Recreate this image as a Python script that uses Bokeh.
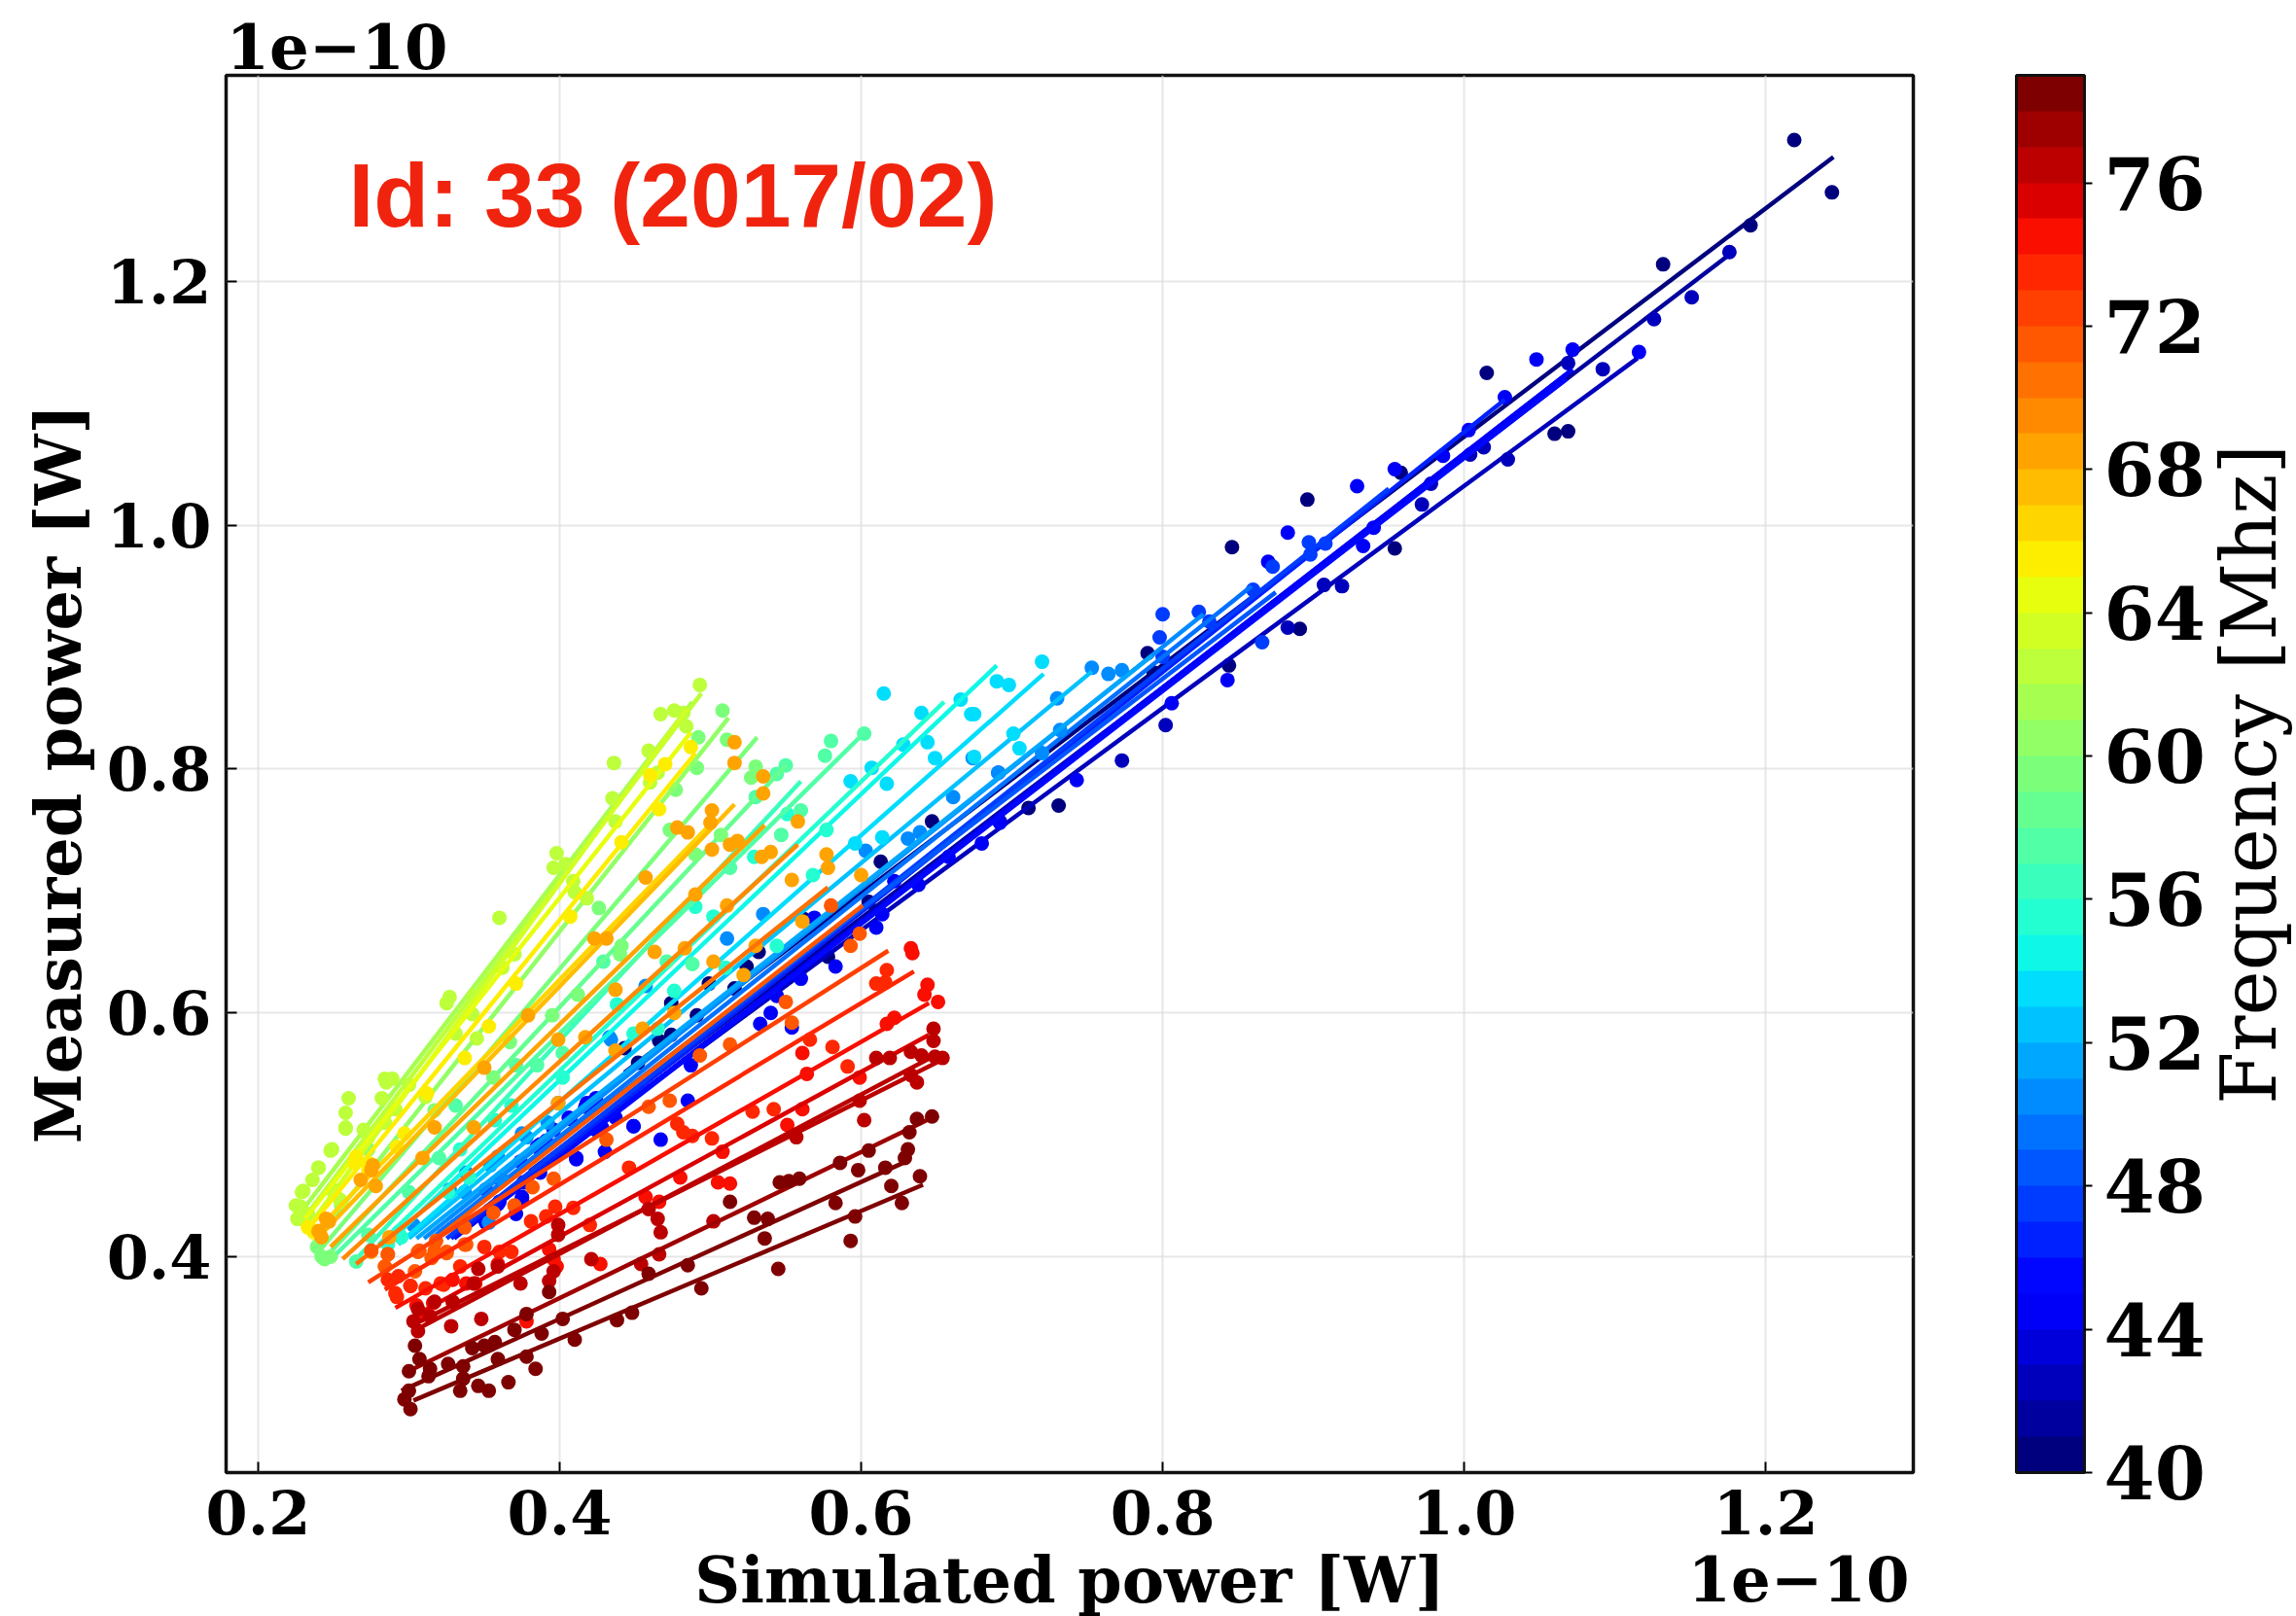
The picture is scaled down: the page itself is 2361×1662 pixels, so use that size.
import numpy as np
from bokeh.embed import file_html
from bokeh.models import ColorBar, ColumnDataSource, FixedTicker, Label, LinearColorMapper, NumeralTickFormatter, Title
from bokeh.plotting import figure
from bokeh.resources import INLINE
from bokeh.transform import transform

# Fit lines: one per frequency (MHz); power values in units of 1e-10 W
line_freq = [40, 41, 42, 43, 44, 45, 46, 47, 48, 49, 50, 51, 52, 53, 54, 55, 56, 57, 58, 59, 60,
             61, 62, 63, 64, 65, 66, 67, 68, 69, 70, 71, 72, 73, 74, 75, 76, 76, 77, 78, 78]
line_x0 = [0.443, 0.380, 0.350, 0.340, 0.335, 0.330, 0.328, 0.325, 0.320, 0.315, 0.310, 0.305, 0.300, 0.293, 0.285, 0.280, 0.265, 0.250, 0.245, 0.240, 0.237,
           0.228, 0.230, 0.233, 0.231, 0.234, 0.236, 0.240, 0.248, 0.256, 0.265, 0.315, 0.273, 0.284, 0.291, 0.300, 0.303, 0.301, 0.303, 0.295, 0.303]
line_y0 = [0.551, 0.470, 0.440, 0.425, 0.420, 0.415, 0.415, 0.415, 0.420, 0.415, 0.415, 0.415, 0.415, 0.410, 0.410, 0.410, 0.398, 0.400, 0.400, 0.404, 0.412,
           0.436, 0.431, 0.424, 0.431, 0.424, 0.418, 0.416, 0.408, 0.398, 0.394, 0.412, 0.379, 0.373, 0.358, 0.349, 0.339, 0.343, 0.308, 0.290, 0.282]
line_x1 = [1.245, 1.175, 1.115, 1.070, 1.072, 1.068, 1.027, 0.950, 0.875, 0.859, 0.827, 0.793, 0.753, 0.721, 0.690, 0.655, 0.560, 0.599, 0.550, 0.531, 0.512,
           0.488, 0.494, 0.485, 0.487, 0.490, 0.501, 0.516, 0.536, 0.558, 0.578, 0.601, 0.618, 0.635, 0.645, 0.645, 0.652, 0.653, 0.647, 0.628, 0.641]
line_y1 = [1.302, 1.221, 1.137, 1.126, 1.128, 1.120, 1.103, 1.030, 0.945, 0.950, 0.927, 0.893, 0.880, 0.878, 0.885, 0.855, 0.790, 0.826, 0.803, 0.826, 0.842,
           0.855, 0.862, 0.850, 0.830, 0.813, 0.756, 0.771, 0.754, 0.738, 0.703, 0.688, 0.651, 0.634, 0.608, 0.582, 0.567, 0.561, 0.514, 0.477, 0.459]

# Measured points, grouped by frequency
navy_f = 40
navy_x = [1.219, 1.244, 1.190, 1.132, 1.015, 1.060, 1.069, 0.958, 0.896, 0.846, 0.891, 0.844, 0.731, 0.711, 0.692, 0.794, 0.790, 0.954, 0.647, 0.613, 0.578, 0.562, 0.605, 0.532, 0.524, 0.516, 0.499, 0.474, 0.474, 0.466, 0.443, 0.452, 0.491]
navy_y = [1.316, 1.273, 1.246, 1.214, 1.125, 1.075, 1.077, 1.043, 1.021, 0.982, 0.915, 0.885, 0.770, 0.768, 0.757, 0.879, 0.895, 0.981, 0.757, 0.724, 0.646, 0.677, 0.691, 0.650, 0.638, 0.620, 0.624, 0.608, 0.582, 0.577, 0.571, 0.559, 0.598]
deep_f = 42
deep_x = [1.176, 1.126, 1.151, 1.092, 1.069, 1.004, 1.013, 1.029, 0.972, 0.978, 0.907, 0.919, 0.883, 0.802, 0.773]
deep_y = [1.224, 1.169, 1.187, 1.128, 1.133, 1.058, 1.064, 1.054, 1.017, 1.034, 0.951, 0.950, 0.916, 0.836, 0.807]
blue_f = 44
blue_x = [1.116, 1.072, 1.048, 1.027, 1.003, 0.986, 0.954, 0.929, 0.940, 0.933, 0.883, 0.870, 0.843, 0.806, 0.743,
          0.569, 0.583, 0.610, 0.614, 0.533, 0.540, 0.554, 0.560, 0.544, 0.485, 0.487, 0.449, 0.467, 0.430, 0.424, 0.411, 0.423, 0.417, 0.407, 0.396, 0.387, 0.378, 0.375, 0.360, 0.351, 0.371, 0.680, 0.658, 0.638, 0.622, 0.692,
          0.418, 0.424, 0.406, 0.411, 0.387, 0.376, 0.361, 0.351, 0.359, 0.375, 0.351, 0.374, 0.385, 0.391, 0.428, 0.437, 0.449]
blue_y = [1.142, 1.144, 1.136, 1.105, 1.078, 1.057, 1.046, 1.032, 0.998, 0.983, 0.994, 0.970, 0.873, 0.854, 0.791,
          0.678, 0.638, 0.670, 0.681, 0.591, 0.600, 0.588, 0.628, 0.614, 0.528, 0.557, 0.507, 0.496, 0.486, 0.504, 0.480, 0.528, 0.523, 0.513, 0.504, 0.492, 0.461, 0.448, 0.445, 0.428, 0.435, 0.739, 0.728, 0.705, 0.708, 0.756,
          0.526, 0.530, 0.514, 0.481, 0.469, 0.461, 0.463, 0.455, 0.443, 0.449, 0.429, 0.478, 0.490, 0.495, 0.506, 0.514, 0.507]
azure_f = 47
azure_x = [0.897, 0.908, 0.898, 0.873, 0.860, 0.866, 0.831, 0.824, 0.800, 0.798, 0.800, 0.691]
azure_y = [0.986, 0.985, 0.976, 0.966, 0.947, 0.904, 0.921, 0.929, 0.927, 0.908, 0.892, 0.797]
sky_f = 50
sky_x = [0.773, 0.764, 0.753, 0.730, 0.732, 0.720, 0.691, 0.674, 0.661, 0.631, 0.639, 0.603, 0.535, 0.511, 0.457, 0.434, 0.399, 0.392, 0.378, 0.354, 0.337, 0.362, 0.353, 0.375, 0.359, 0.338, 0.327, 0.303, 0.294, 0.433]
sky_y = [0.881, 0.878, 0.883, 0.858, 0.832, 0.813, 0.797, 0.809, 0.777, 0.743, 0.748, 0.733, 0.681, 0.661, 0.622, 0.578, 0.526, 0.510, 0.498, 0.475, 0.453, 0.463, 0.428, 0.501, 0.482, 0.469, 0.455, 0.426, 0.417, 0.580]
cyan_f = 53
cyan_x = [0.720, 0.701, 0.705, 0.675, 0.698, 0.690, 0.675, 0.615, 0.640, 0.666, 0.673, 0.628, 0.649, 0.644, 0.593, 0.607, 0.617, 0.596, 0.614]
cyan_y = [0.888, 0.829, 0.817, 0.810, 0.869, 0.872, 0.845, 0.862, 0.846, 0.857, 0.845, 0.820, 0.809, 0.822, 0.790, 0.801, 0.788, 0.739, 0.744]
aqua_f = 55
aqua_x = [0.529, 0.551, 0.577, 0.568, 0.502, 0.490, 0.510, 0.544, 0.438, 0.465, 0.476, 0.449, 0.402, 0.368, 0.357, 0.334, 0.326, 0.295, 0.293, 0.286, 0.340]
aqua_y = [0.728, 0.763, 0.750, 0.713, 0.679, 0.687, 0.637, 0.655, 0.607, 0.587, 0.618, 0.583, 0.547, 0.524, 0.512, 0.488, 0.453, 0.416, 0.420, 0.410, 0.465]
teal_f = 57
teal_x = [0.550, 0.544, 0.530, 0.602, 0.580, 0.576, 0.560, 0.547, 0.513, 0.471, 0.488, 0.429, 0.402, 0.385, 0.371, 0.331, 0.320, 0.300, 0.273, 0.265]
teal_y = [0.803, 0.796, 0.777, 0.829, 0.823, 0.811, 0.766, 0.746, 0.719, 0.642, 0.640, 0.642, 0.567, 0.557, 0.557, 0.524, 0.481, 0.453, 0.418, 0.396]
green_f = 59
green_x = [0.492, 0.511, 0.491, 0.477, 0.530, 0.527, 0.473, 0.507, 0.490, 0.441, 0.440, 0.426, 0.412, 0.395, 0.367, 0.356, 0.317, 0.273, 0.255, 0.239, 0.244, 0.242, 0.248, 0.508]
green_y = [0.826, 0.824, 0.801, 0.783, 0.802, 0.793, 0.750, 0.746, 0.730, 0.655, 0.648, 0.686, 0.615, 0.598, 0.576, 0.547, 0.520, 0.488, 0.442, 0.408, 0.398, 0.400, 0.400, 0.848]
lime_f = 62
lime_x = [0.493, 0.482, 0.476, 0.467, 0.484, 0.436, 0.459, 0.465, 0.460, 0.398, 0.404, 0.396, 0.409, 0.410, 0.418, 0.435, 0.437, 0.360, 0.327, 0.325, 0.343, 0.362, 0.370, 0.289, 0.285, 0.300, 0.282, 0.260, 0.258, 0.291, 0.258, 0.270, 0.273, 0.249, 0.240, 0.230, 0.228, 0.226, 0.233, 0.250, 0.255, 0.284, 0.311, 0.331, 0.345, 0.342,
          0.258, 0.248, 0.240, 0.236, 0.229, 0.227, 0.225, 0.250, 0.254, 0.284]
lime_y = [0.869, 0.846, 0.848, 0.845, 0.835, 0.805, 0.815, 0.797, 0.789, 0.731, 0.722, 0.719, 0.708, 0.699, 0.694, 0.776, 0.757, 0.678, 0.613, 0.608, 0.614, 0.637, 0.648, 0.546, 0.543, 0.541, 0.530, 0.530, 0.518, 0.521, 0.505, 0.504, 0.498, 0.488, 0.473, 0.454, 0.441, 0.431, 0.435, 0.453, 0.445, 0.510, 0.531, 0.583, 0.579, 0.599,
          0.506, 0.487, 0.473, 0.463, 0.453, 0.431, 0.442, 0.455, 0.447, 0.546]
yellow_f = 65
yellow_x = [0.487, 0.470, 0.460, 0.466, 0.441, 0.407, 0.371, 0.353, 0.337, 0.312, 0.297, 0.292, 0.264, 0.233, 0.237, 0.273, 0.265, 0.273]
yellow_y = [0.818, 0.804, 0.795, 0.767, 0.740, 0.679, 0.624, 0.589, 0.563, 0.534, 0.501, 0.490, 0.477, 0.424, 0.420, 0.471, 0.482, 0.477]
amber_f = 68
amber_x = [0.516, 0.516, 0.535, 0.535, 0.501, 0.500, 0.485, 0.478, 0.558, 0.534, 0.540, 0.513, 0.518, 0.501, 0.457, 0.490, 0.511, 0.463, 0.483, 0.502, 0.577, 0.578, 0.554, 0.600, 0.561, 0.530, 0.522, 0.437, 0.417, 0.399, 0.379, 0.431, 0.423, 0.350, 0.343, 0.317, 0.309, 0.276, 0.247, 0.242, 0.275, 0.287, 0.476, 0.399, 0.437, 0.455,
           0.268, 0.275, 0.278, 0.245, 0.240]
amber_y = [0.822, 0.805, 0.794, 0.780, 0.766, 0.756, 0.748, 0.752, 0.757, 0.728, 0.732, 0.738, 0.741, 0.734, 0.711, 0.697, 0.688, 0.650, 0.653, 0.642, 0.730, 0.719, 0.709, 0.713, 0.675, 0.655, 0.631, 0.619, 0.580, 0.578, 0.598, 0.661, 0.661, 0.555, 0.506, 0.506, 0.481, 0.475, 0.429, 0.416, 0.404, 0.416, 0.600, 0.526, 0.569, 0.587,
           0.463, 0.471, 0.458, 0.431, 0.421]
orange_f = 71
orange_x = [0.580, 0.599, 0.593, 0.550, 0.513, 0.493, 0.459, 0.473, 0.431, 0.396, 0.382, 0.370, 0.356, 0.337, 0.317, 0.306, 0.286, 0.284, 0.304, 0.325, 0.337, 0.554,
            0.307, 0.325, 0.315, 0.338, 0.318, 0.286, 0.275]
orange_y = [0.688, 0.665, 0.655, 0.609, 0.574, 0.565, 0.523, 0.528, 0.496, 0.464, 0.457, 0.442, 0.436, 0.424, 0.405, 0.404, 0.402, 0.392, 0.388, 0.404, 0.410, 0.592,
            0.405, 0.403, 0.399, 0.410, 0.413, 0.402, 0.405]
vermilion_f = 73
vermilion_x = [0.617, 0.610, 0.616, 0.566, 0.581, 0.591, 0.528, 0.542, 0.488, 0.482, 0.501, 0.478, 0.446, 0.409, 0.397, 0.391, 0.381, 0.420, 0.368, 0.360, 0.350, 0.334, 0.321, 0.301, 0.292,
               0.286, 0.293, 0.291, 0.301, 0.311, 0.323]
vermilion_y = [0.635, 0.624, 0.625, 0.578, 0.572, 0.556, 0.519, 0.521, 0.499, 0.502, 0.497, 0.509, 0.473, 0.440, 0.441, 0.433, 0.429, 0.426, 0.404, 0.404, 0.408, 0.392, 0.378, 0.376, 0.367,
               0.381, 0.384, 0.370, 0.376, 0.374, 0.377]
red_f = 74
red_x = [0.633, 0.634, 0.644, 0.642, 0.651, 0.622, 0.617, 0.561, 0.564, 0.599, 0.561, 0.551, 0.508, 0.505, 0.513, 0.480, 0.466, 0.457, 0.427, 0.398, 0.396, 0.393, 0.378,
         0.305, 0.308, 0.316, 0.329, 0.338, 0.344, 0.359]
red_y = [0.653, 0.649, 0.623, 0.615, 0.609, 0.596, 0.591, 0.567, 0.550, 0.547, 0.521, 0.508, 0.486, 0.461, 0.460, 0.465, 0.445, 0.449, 0.394, 0.392, 0.398, 0.406, 0.347,
         0.360, 0.352, 0.362, 0.381, 0.378, 0.378, 0.394]
crimson_f = 76
crimson_x = [0.648, 0.648, 0.633, 0.610, 0.619, 0.640, 0.649, 0.654, 0.633, 0.637, 0.599, 0.602, 0.557, 0.502, 0.459, 0.465, 0.467, 0.466, 0.454, 0.421, 0.399, 0.399, 0.396, 0.393, 0.374, 0.359, 0.346, 0.343, 0.329, 0.317, 0.306, 0.303, 0.306, 0.348, 0.328, 0.314]
crimson_y = [0.587, 0.577, 0.568, 0.563, 0.563, 0.565, 0.564, 0.563, 0.549, 0.543, 0.528, 0.512, 0.498, 0.429, 0.439, 0.431, 0.420, 0.402, 0.394, 0.398, 0.426, 0.418, 0.388, 0.380, 0.378, 0.392, 0.390, 0.378, 0.363, 0.363, 0.357, 0.347, 0.339, 0.349, 0.343, 0.351]
maroon_f = 78
maroon_x = [0.647, 0.637, 0.632, 0.631, 0.629, 0.605, 0.598, 0.616, 0.586, 0.639, 0.620, 0.627, 0.593, 0.596, 0.583, 0.546, 0.552, 0.559, 0.529, 0.538, 0.536, 0.513, 0.485, 0.545, 0.494, 0.459, 0.448, 0.438, 0.410, 0.402, 0.388, 0.370, 0.384, 0.366, 0.378, 0.359, 0.350, 0.357, 0.342, 0.353, 0.346, 0.334, 0.336, 0.336, 0.326, 0.314, 0.307, 0.300, 0.313, 0.304, 0.297, 0.301, 0.300, 0.378, 0.393]
maroon_y = [0.515, 0.513, 0.502, 0.488, 0.481, 0.487, 0.471, 0.473, 0.477, 0.466, 0.458, 0.444, 0.413, 0.433, 0.444, 0.461, 0.462, 0.464, 0.432, 0.431, 0.415, 0.445, 0.393, 0.390, 0.374, 0.386, 0.354, 0.348, 0.332, 0.349, 0.337, 0.340, 0.308, 0.297, 0.318, 0.316, 0.327, 0.330, 0.325, 0.290, 0.294, 0.290, 0.300, 0.310, 0.312, 0.308, 0.316, 0.306, 0.302, 0.327, 0.283, 0.275, 0.290, 0.353, 0.371]

point_groups = [
    (navy_f, navy_x, navy_y), (deep_f, deep_x, deep_y), (blue_f, blue_x, blue_y),
    (azure_f, azure_x, azure_y), (sky_f, sky_x, sky_y), (cyan_f, cyan_x, cyan_y),
    (aqua_f, aqua_x, aqua_y), (teal_f, teal_x, teal_y), (green_f, green_x, green_y),
    (lime_f, lime_x, lime_y), (yellow_f, yellow_x, yellow_y), (amber_f, amber_x, amber_y),
    (orange_f, orange_x, orange_y), (vermilion_f, vermilion_x, vermilion_y),
    (red_f, red_x, red_y), (crimson_f, crimson_x, crimson_y), (maroon_f, maroon_x, maroon_y),
]

x_ticks = [0.2, 0.4, 0.6, 0.8, 1.0, 1.2]
y_ticks = [0.4, 0.6, 0.8, 1.0, 1.2]
freq_ticks = [40, 44, 48, 52, 56, 60, 64, 68, 72, 76]
x_label = "Simulated power [W]"
y_label = "Measured power [W]"
freq_label = "Frequency [Mhz]"
offset_text = "1e\u221210"
id_text = "Id: 33 (2017/02)"


def jet_palette(n):
    t = np.linspace(0, 1, n)
    r = np.interp(t, [0, 0.35, 0.66, 0.89, 1], [0, 0, 1, 1, 0.5])
    g = np.interp(t, [0, 0.125, 0.375, 0.64, 0.91, 1], [0, 0, 1, 1, 0, 0])
    b = np.interp(t, [0, 0.11, 0.34, 0.65, 1], [0.5, 1, 1, 0, 0])
    return ["#%02x%02x%02x" % (int(a * 255), int(c * 255), int(d * 255)) for a, c, d in zip(r, g, b)]


SERIF = "DejaVu Serif"
mapper = LinearColorMapper(palette=jet_palette(39), low=40, high=79)

p = figure(
    frame_width=1735, frame_height=1437,
    x_range=(0.1787, 1.298), y_range=(0.2229, 1.369),
    min_border_left=232, min_border_top=77, min_border_bottom=140, min_border_right=394,
    toolbar_location=None, output_backend="svg", background_fill_color="white",
)
p.outline_line_color = "#111111"
p.outline_line_width = 3.5
p.xaxis.ticker = FixedTicker(ticks=x_ticks)
p.yaxis.ticker = FixedTicker(ticks=y_ticks)
p.xaxis.axis_label = x_label
p.yaxis.axis_label = y_label
p.xaxis.formatter = NumeralTickFormatter(format="0.0")
p.yaxis.formatter = NumeralTickFormatter(format="0.0")
for ax in (p.xaxis[0], p.yaxis[0]):
    ax.axis_line_color = None
    ax.major_tick_line_color = "black"
    ax.major_tick_line_width = 2
    ax.minor_tick_line_color = None
    ax.major_tick_out = 0
    ax.major_tick_in = 11
    ax.major_label_text_font = SERIF
    ax.major_label_text_font_style = "bold"
    ax.major_label_text_font_size = "62px"
    ax.major_label_text_color = "black"
    ax.axis_label_text_font = SERIF
    ax.axis_label_text_font_style = "bold"
    ax.axis_label_text_font_size = "65px"
    ax.axis_label_text_color = "black"
p.xaxis.major_label_standoff = 18
p.yaxis.major_label_standoff = 15
p.xaxis.axis_label_standoff = 6
p.yaxis.axis_label_standoff = 9
p.grid.grid_line_color = "#dddddd"
p.grid.grid_line_width = 2
p.grid.grid_line_alpha = 0.7

freqs = sorted(set(line_freq) | {g[0] for g in point_groups})
for f in freqs:
    for gf, gx, gy in point_groups:
        if gf == f:
            src = ColumnDataSource(dict(x=gx, y=gy, f=[gf] * len(gx)))
            p.scatter("x", "y", source=src, size=15, line_width=0,
                      fill_color=transform("f", mapper))
    idx = [i for i, v in enumerate(line_freq) if v == f]
    if idx:
        src = ColumnDataSource(dict(
            x0=[line_x0[i] for i in idx], y0=[line_y0[i] for i in idx],
            x1=[line_x1[i] for i in idx], y1=[line_y1[i] for i in idx],
            f=[f] * len(idx)))
        p.segment("x0", "y0", "x1", "y1", source=src, line_width=4.5,
                  line_color=transform("f", mapper), line_cap="butt")

cb = ColorBar(
    color_mapper=mapper, ticker=FixedTicker(ticks=freq_ticks),
    location=(1841, 0), width=70, height=1437, padding=0, margin=0,
    bar_line_color="#111111", bar_line_width=3,
    major_tick_line_color="black", major_tick_line_width=2, major_tick_in=0, major_tick_out=8,
    major_label_text_font=SERIF, major_label_text_font_style="bold",
    major_label_text_font_size="75px", major_label_text_color="black",
    label_standoff=12, background_fill_alpha=0, border_line_color=None,
)
p.add_layout(cb)

p.add_layout(Label(x=126, y=1314, x_units="screen", y_units="screen", text=id_text,
                   text_font="Liberation Sans", text_font_style="bold", text_font_size="93px",
                   text_color="#f0240e", text_baseline="alphabetic"))

# Offset text above the frame
p.add_layout(Title(text=offset_text, align="left", text_font=SERIF, text_font_style="bold",
                   text_font_size="64px", text_color="black", offset=0, standoff=13), "above")

# Offset text on the axis-label row: an invisible 1x2px colour bar whose single tick carries it,
# because annotations of other kinds get clipped to the frame
offset_bar = ColorBar(
    color_mapper=mapper, ticker=FixedTicker(ticks=[50]), major_label_overrides={50: offset_text},
    location=(1502, -110), width=1, height=2, orientation="vertical", padding=0, margin=0,
    scale_alpha=0, bar_line_color=None, major_tick_line_color=None, minor_tick_line_color=None,
    background_fill_alpha=0, border_line_color=None, label_standoff=0,
    major_label_text_font=SERIF, major_label_text_font_style="bold",
    major_label_text_font_size="64px", major_label_text_color="black",
)
p.add_layout(offset_bar)

# Colour bar's rotated label, in the right-hand panel (panel annotations are not clipped)
p.add_layout(Label(x=345, y=718, x_units="screen", y_units="screen", text=freq_label,
                   text_font=SERIF, text_font_size="78px", text_color="black",
                   text_align="center", text_baseline="middle", angle=90, angle_units="deg"), "right")

open("out.html", "w").write(file_html(p, INLINE))
